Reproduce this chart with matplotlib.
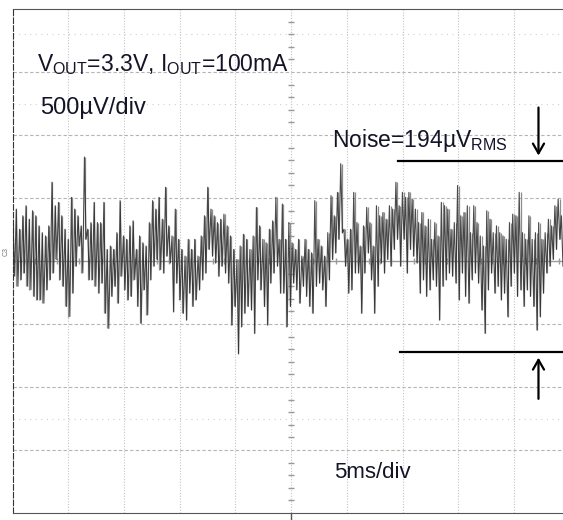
import matplotlib
matplotlib.use('Agg')
from matplotlib import pyplot as plt
import numpy as np

# scope capture: 5 ms/div, 500 uV/div
# upper / lower envelope of the trace per ~3.3 px column, in uV
trace_hi = [292, 412, 252, 359, 439, 332, 399, 359, 279, 225, 199, 279, 625, 439, 465, 359, 252, 172, 505, 412, 359, 279, 825, 252, 305, 465, 305,
            305, 465, 92, 119, 92, 225, 479, 199, 172, 279, 319, 92, 199, 145, 119, 305, 479, 412, 505, 332, 585, 279, 199, 412, 172, 92, 39, 172,
            92, 172, 39, 199, 359, 585, 412, 359, 305, 332, 372, 279, 199, 92, 12, 119, 212, 172, 92, 199, 425, 279, 172, 145, 252, 319, 505, 172,
            452, 172, 305, 145, 92, 172, 39, 172, 92, 65, 479, 172, 119, 39, 225, 519, 359, 545, 772, 252, 172, 252, 545, 305, 119, 279, 425, 305,
            119, 439, 359, 385, 332, 439, 412, 625, 439, 545, 505, 545, 492, 412, 305, 385, 279, 332, 172, 305, 199, 465, 439, 412, 252, 305, 599, 359,
            385, 439, 225, 439, 305, 199, 119, 399, 332, 225, 279, 225, 199, 172, 305, 372, 359, 545, 225, 172, 359, 172, 225, 305, 172, 225, 332, 279, 439, 492, 359]
trace_lo = [-121, -201, -148, -95, -201, -228, -281, -308, -308, -335, -228, -148, -95, 12, -148, -201, -361, -441, -255, -41, 119, -95, 172, -148, -148, -201, -255,
            -175, -415, -535, -281, -201, -335, -121, -228, -308, -281, -148, -361, -495, -228, -428, -148, -41, 12, -68, -95, 39, -15, -401, -175, -308, -415, -468, -255,
            -361, -308, -228, -148, -95, 92, 39, -15, -121, -41, -95, -175, -508, -361, -735, -521, -415, -361, -388, -575, -148, -228, -361, -508, -175, -95, -41, -255,
            -255, -521, -361, -175, -228, -335, -201, -281, -361, -415, -201, -175, -228, -361, -148, 12, 65, 172, 225, -41, -255, -228, -95, -95, -415, -95, 65, -148,
            -415, -201, -15, -95, 12, -41, 92, 172, -41, 172, -95, 92, 39, -15, -255, -148, -281, -228, -148, -201, -468, -201, -148, -95, -121, -175, -308, -95,
            -281, -335, -148, -95, -175, -388, -575, -228, -95, -255, -201, -308, -255, -441, -201, -95, -281, -228, -361, -228, -281, -361, -548, -441, -255, -95, -41, 12, 92, 172, -41]

t_start, t_end = 0.05, 49.4   # ms, screen is cut on the right
noise_top, noise_bottom = 790, -720   # uV, marker lines

plt.rcParams['font.family'] = 'Liberation Sans'
plt.rcParams['mathtext.fontset'] = 'custom'
plt.rcParams['mathtext.rm'] = 'Liberation Sans'

fig = plt.figure(figsize=(5.63, 5.20), dpi=100)
ax = fig.add_axes([12.5/563, 7/520, 550.5/563, 504/520])
ax.set_xlim(0, 49.4)
ax.set_ylim(-2000, 2000)

# graticule
for x in np.arange(5, 49, 5):
    ax.axvline(x, color='#c4c4c4', lw=0.8, ls=(0, (1, 1.5)), zorder=1)
for y in np.arange(-1500, 2000, 500):
    if y != 0:
        ax.axhline(y, color='#b5b5b5', lw=0.8, ls=(0, (3, 2)), zorder=1)
ax.axhline(0, color='#999999', lw=1.0, zorder=1)
for y in [1800, 1250, -1250]:
    ax.axhline(y, color='#d0d0d0', lw=0.8, ls=(0, (1, 4)), zorder=1)
minor_y = [v for v in range(-1900, 2000, 100) if v % 500 != 0]
ax.plot([25] * len(minor_y), minor_y, ls='none', marker='_', ms=4, color='#999999', zorder=1)
minor_x = [v for v in range(1, 50) if v % 5 != 0]
ax.plot(minor_x, [0] * len(minor_x), ls='none', marker='|', ms=4, color='#999999', zorder=1)

# trace: thin light strokes for the envelope, darker zigzag through it
n = len(trace_hi)
tc = np.linspace(t_start, t_end, n)
ax.vlines(tc, trace_lo, trace_hi, color='#8c8c8c', lw=0.9, zorder=2)
t = np.linspace(t_start, t_end, 2 * n)
v = np.empty(2 * n)
v[0::2] = trace_hi
v[1::2] = trace_lo
ax.plot(t, v, color='#2a2a2a', lw=0.8, alpha=0.85, zorder=3)

# noise markers
ax.plot([34.6, 49.4], [noise_top, noise_top], color='black', lw=1.6, zorder=4)
ax.plot([34.8, 49.4], [noise_bottom, noise_bottom], color='black', lw=1.6, zorder=4)
ax.annotate('', xy=(47.2, noise_top + 25), xytext=(47.2, 1240),
            arrowprops=dict(arrowstyle='->,head_length=0.7,head_width=0.4', color='black', lw=1.6))
ax.annotate('', xy=(47.2, noise_bottom - 25), xytext=(47.2, -1116),
            arrowprops=dict(arrowstyle='->,head_length=0.7,head_width=0.4', color='black', lw=1.6))

# labels
ax.text(2.2, 1508, r'V$_{\mathregular{OUT}}$=3.3V, I$_{\mathregular{OUT}}$=100mA', fontsize=16.5, color='#141428', va='baseline')
ax.text(2.47, 1164, '500µV/div', fontsize=17, color='#141428', va='baseline')
ax.text(28.68, 908, r'Noise=194µV$_{\mathregular{RMS}}$', fontsize=16.5, color='#141428', va='baseline')
ax.text(28.9, -1724, '5ms/div', fontsize=16, color='#141428', va='baseline')
ax.text(-0.6, 76, 'C3', fontsize=5, color='#777777', rotation=90, ha='center', va='center', clip_on=False)
ax.plot([25, 25], [-2000, -2110], color='#555555', lw=1, clip_on=False)

ax.set_xticks([])
ax.set_yticks([])
ax.spines['right'].set_visible(False)
ax.spines['top'].set_color('#555555')
ax.spines['bottom'].set_color('#555555')
ax.spines['left'].set_color('#333333')
ax.spines['left'].set_linestyle((0, (5, 2)))

fig.savefig('out.png', dpi=100, facecolor='white')
